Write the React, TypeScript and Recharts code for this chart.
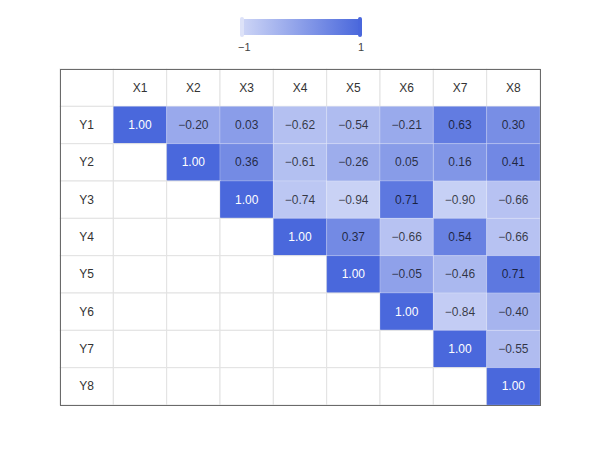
import React from "react";
import { ScatterChart, Scatter, XAxis, YAxis } from "recharts";

const xLabels = ["X1", "X2", "X3", "X4", "X5", "X6", "X7", "X8"];
const yLabels = ["Y1", "Y2", "Y3", "Y4", "Y5", "Y6", "Y7", "Y8"];

// upper triangle, each row starts on the diagonal
const rowY1 = [1.0, -0.2, 0.03, -0.62, -0.54, -0.21, 0.63, 0.3];
const rowY2 = [1.0, 0.36, -0.61, -0.26, 0.05, 0.16, 0.41];
const rowY3 = [1.0, -0.74, -0.94, 0.71, -0.9, -0.66];
const rowY4 = [1.0, 0.37, -0.66, 0.54, -0.66];
const rowY5 = [1.0, -0.05, -0.46, 0.71];
const rowY6 = [1.0, -0.84, -0.4];
const rowY7 = [1.0, -0.55];
const rowY8 = [1.0];
const rows = [rowY1, rowY2, rowY3, rowY4, rowY5, rowY6, rowY7, rowY8];

const W = 600;
const H = 442;
const M = { top: 61, right: 68, bottom: 45, left: 52 };
const N = 9;
const PW = W - M.left - M.right;
const PH = H - M.top - M.bottom;
const CW = PW / N;
const CH = PH / N;

const LOW = [205, 213, 246];
const HIGH = [74, 104, 220];
const FONT = "'Liberation Sans', Arial, sans-serif";

function colorFor(v: number) {
  const t = (v + 1) / 2;
  const c = LOW.map((l, i) => Math.round(l + (HIGH[i] - l) * t));
  return `rgb(${c[0]},${c[1]},${c[2]})`;
}

function fmt(v: number) {
  const s = Math.abs(v).toFixed(2);
  return v < 0 ? `\u2212${s}` : s;
}

type CellDatum = { x: number; y: number; kind: string; label: string; value?: number };

const cells: CellDatum[] = [];
cells.push({ x: 0.5, y: 0.5, kind: "head", label: "" });
xLabels.forEach((l, i) => cells.push({ x: i + 1.5, y: 0.5, kind: "head", label: l }));
yLabels.forEach((l, r) => {
  cells.push({ x: 0.5, y: r + 1.5, kind: "head", label: l });
  for (let c = 0; c < xLabels.length; c++) {
    const k = c - r;
    if (k < 0) cells.push({ x: c + 1.5, y: r + 1.5, kind: "empty", label: "" });
    else {
      const v = rows[r][k];
      cells.push({ x: c + 1.5, y: r + 1.5, kind: "value", label: fmt(v), value: v });
    }
  }
});

function CellShape(props: any) {
  const { cx, cy, payload } = props;
  const d = payload as CellDatum;
  const x = cx - CW / 2;
  const y = cy - CH / 2;
  if (d.kind === "value") {
    const v = d.value as number;
    return (
      <g>
        <rect x={x} y={y} width={CW} height={CH} fill={colorFor(v)} stroke="rgba(255,255,255,0.2)" strokeWidth={1} />
        <text
          x={cx}
          y={cy}
          textAnchor="middle"
          dominantBaseline="central"
          fontSize={12}
          fontFamily={FONT}
          fill={v >= 0.99 ? "#ffffff" : "rgba(0,0,0,0.72)"}
        >
          {d.label}
        </text>
      </g>
    );
  }
  return (
    <g>
      <rect x={x} y={y} width={CW} height={CH} fill="#ffffff" stroke="#e2e2e2" strokeWidth={1} />
      {d.label && (
        <text x={cx} y={cy} textAnchor="middle" dominantBaseline="central" fontSize={12} fontFamily={FONT} fill="#333">
          {d.label}
        </text>
      )}
    </g>
  );
}

function GradientLegend() {
  return (
    <div style={{ position: "absolute", left: 232, top: 9, width: 122, height: 40, fontFamily: FONT }}>
      <div
        style={{
          position: "absolute",
          left: 2,
          top: 2,
          width: 118,
          height: 16,
          background: `linear-gradient(to right, ${colorFor(-1)}, ${colorFor(1)})`,
        }}
      />
      <div style={{ position: "absolute", left: 0, top: 0, width: 4, height: 20, borderRadius: 2, background: "#dde2f8" }} />
      <div style={{ position: "absolute", left: 118, top: 0, width: 4, height: 20, borderRadius: 2, background: "#4a67dc" }} />
      <div style={{ position: "absolute", left: -2, top: 24, fontSize: 11, color: "#444" }}>{"\u22121"}</div>
      <div style={{ position: "absolute", left: 118, top: 24, fontSize: 11, color: "#444" }}>1</div>
    </div>
  );
}

export default function App() {
  return (
    <div style={{ position: "relative", width: W, height: H }}>
      <ScatterChart width={W} height={H} margin={M}>
        <XAxis type="number" dataKey="x" domain={[0, N]} hide />
        <YAxis type="number" dataKey="y" domain={[0, N]} reversed hide />
        <Scatter data={cells} shape={CellShape} isAnimationActive={false} />
      </ScatterChart>
      <div
        style={{
          position: "absolute",
          left: M.left,
          top: M.top,
          width: PW + 1,
          height: PH + 1,
          boxSizing: "border-box",
          border: "1px solid #6a6a6a",
          pointerEvents: "none",
        }}
      />
      <GradientLegend />
    </div>
  );
}
